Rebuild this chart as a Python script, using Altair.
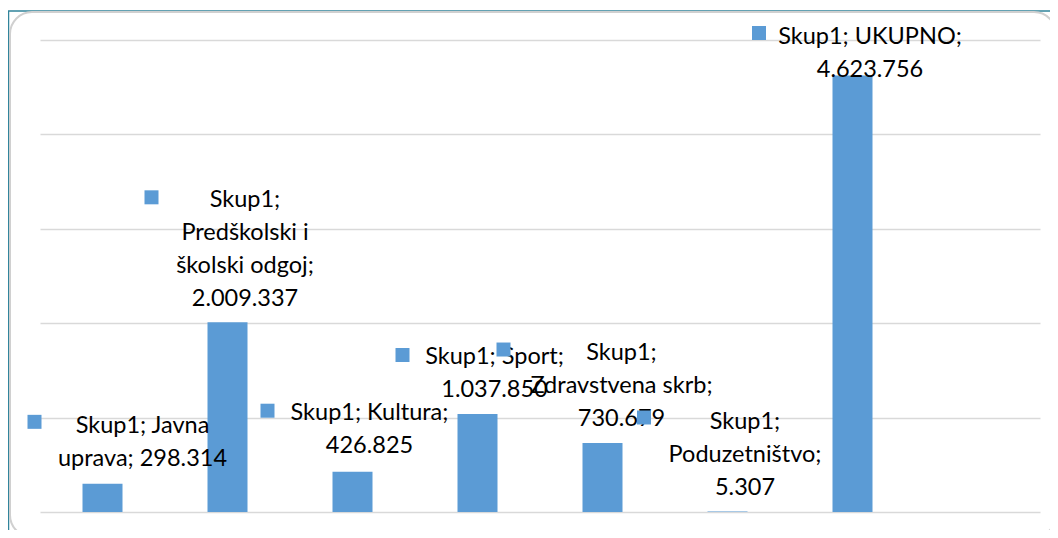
import altair as alt
import pandas as pd

# ---- data ----
series_name = "Skup1"
categories = ["Javna uprava", "Predškolski i školski odgoj", "Kultura", "Sport",
              "Zdravstvena skrb", "Poduzetništvo", "UKUPNO"]
values = [298314, 2009337, 426825, 1037850, 730679, 5307, 4623756]
empty_slots = [" "]          # empty category slot at the right end
y_ticks = [0, 1000000, 2000000, 3000000, 4000000, 5000000]

# ---- layout (label wrapping and offsets relative to bar centre / top) ----
line_words = [[2, 2], [1, 2, 2, 1], [2, 1], [2, 1], [1, 2, 1], [1, 1, 1], [2, 1]]
text_off = [(40, -60), (17.5, -124), (17, -61), (17, -59), (19, -92), (17.5, -91.5), (17.5, -40.5)]
square_off = [(-68, -62), (-76, -125), (-85, -61), (-75, -59), (-99, -93.5), (-83.5, -94), (-93.5, -42.5)]

BAR = "#5b9bd5"
GRID = "#d9d9d9"
FONT = "Lato"
FS = 23.5
CAP_SHIFT = 10.2   # distance from text top (baseline=top) to cap centre


def fmt(v):
    return f"{v:,}".replace(",", ".")


def wrap(text, counts):
    words = text.split(" ")
    out, i = [], 0
    for c in counts:
        out.append(" ".join(words[i:i + c]))
        i += c
    return "\n".join(out)


labels = [wrap(f"{series_name}; {c}; {fmt(v)}", lw)
          for c, v, lw in zip(categories, values, line_words)]
df = pd.DataFrame({"category": categories, "value": values, "label": labels})

x_enc = alt.X("category:N",
              scale=alt.Scale(domain=categories + empty_slots, paddingInner=0, paddingOuter=0),
              axis=alt.Axis(labels=False, ticks=False, domain=False, title=None, grid=False),
              sort=None)
y_enc = alt.Y("value:Q",
              scale=alt.Scale(domain=[0, 5000000], nice=False, zero=True),
              axis=alt.Axis(values=y_ticks, labels=False, ticks=False, domain=False,
                            title=None, grid=True, gridColor=GRID, gridWidth=1.5))

base = alt.Chart(df)

# chart frame (decoration)
frame_teal = alt.Chart(pd.DataFrame({"a": [0]})).mark_rect(
    fill=None, stroke="#31849b", strokeWidth=1.5
).encode(x=alt.value(-31.5), x2=alt.value(1030), y=alt.value(-29), y2=alt.value(510))
frame_grey = alt.Chart(pd.DataFrame({"a": [0]})).mark_rect(
    fill=None, stroke="#d0d0d0", strokeWidth=2, cornerRadius=22
).encode(x=alt.value(-30), x2=alt.value(1016), y=alt.value(-28), y2=alt.value(497))

bars = base.mark_bar(color=BAR, size=40).encode(x=x_enc, y=y_enc)

layers = [frame_teal, frame_grey, bars]
for i, cat in enumerate(categories):
    tdx, tdy = text_off[i]
    layers.append(
        base.transform_filter(alt.datum.category == cat).mark_text(
            font=FONT, fontSize=FS, color="#000000", align="center", baseline="top",
            lineBreak="\n", lineHeight=33, dx=tdx, dy=tdy - CAP_SHIFT
        ).encode(x=x_enc, y=y_enc, text="label:N")
    )
for i, cat in enumerate(categories):
    sdx, sdy = square_off[i]
    layers.append(
        base.transform_filter(alt.datum.category == cat).mark_square(
            color=BAR, filled=True, opacity=1, size=196, xOffset=sdx, yOffset=sdy
        ).encode(x=x_enc, y=y_enc)
    )

chart = alt.layer(*layers).properties(
    width=1000, height=472,
    background="white",
    padding={"left": 32, "top": 32, "right": 10, "bottom": 18},
    autosize=alt.AutoSizeParams(type="none"),
).configure_view(strokeWidth=0, stroke="transparent")

chart.save("out.html", embed_options={"renderer": "svg", "actions": False})
